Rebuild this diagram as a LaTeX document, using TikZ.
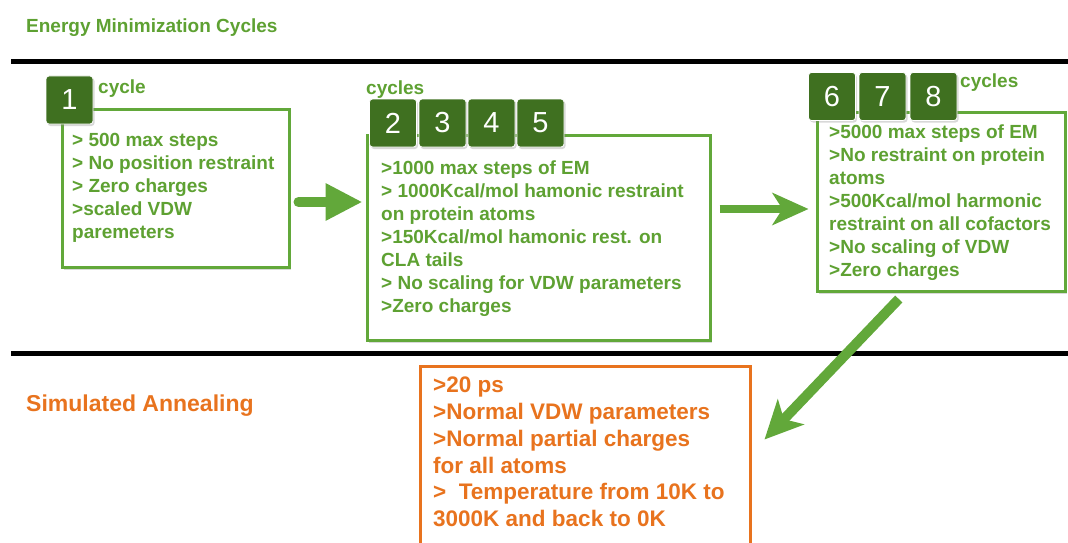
\documentclass[tikz,border=0pt]{standalone}
\usepackage{fontspec}
\setmainfont{Liberation Sans}
\usetikzlibrary{arrows.meta,shadows}
\definecolor{emgreen}{HTML}{62A83A}
\definecolor{emtext}{HTML}{5EA132}
\definecolor{badgegreen}{HTML}{3F7020}
\definecolor{saorange}{HTML}{E8731E}

\begin{document}
\begin{tikzpicture}[x=1pt,y=-1pt,
  stepbox/.style={draw=emgreen, line width=3pt, fill=white, inner sep=0pt,
    drop shadow={shadow xshift=2pt, shadow yshift=-3pt, opacity=0.3}},
  badge/.style={fill=badgegreen, draw=white, line width=0.8pt, rounded corners=3pt,
    minimum width=47pt, minimum height=48pt, inner sep=0pt, text=white,
    font=\fontsize{29}{29}\selectfont,
    drop shadow={shadow xshift=1.5pt, shadow yshift=-2pt, opacity=0.3}},
  steplist/.style={anchor=north west, inner sep=0pt, align=left, text=emtext,
    font=\fontsize{19}{23}\selectfont\bfseries},
  cyclelabel/.style={anchor=base west, inner sep=0pt, text=emtext,
    font=\fontsize{19}{23}\selectfont\bfseries},
  fatarrow/.style={draw=emgreen, line width=10pt},
  sep/.style={draw=black, line width=5pt}
]
\useasboundingbox (0,0) rectangle (1068,543);
\clip (0,0) rectangle (1068,543);

% section headings and separators
\node[anchor=base west, inner sep=0pt, text=emtext,
  font=\fontsize{19}{23}\selectfont\bfseries] (emtitle) at (26,33) {Energy Minimization Cycles};
\node[anchor=base west, inner sep=0pt, text=saorange,
  font=\fontsize{23}{27}\selectfont\bfseries] (satitle) at (26,411) {Simulated Annealing};
\draw[sep] (11,62) -- (1068,62);
\draw[sep] (11,353) -- (1068,353);

% cycle 1
\node[stepbox, minimum width=227pt, minimum height=158pt] (box1) at (175.5,188) {};
\node[badge] (b1) at (69.5,100) {1};
\node[cyclelabel] (c1) at (98,93) {cycle};
\node[steplist] (t1) at (72,133) {> 500 max steps\\> No position restraint\\> Zero charges\\>scaled VDW\\paremeters};

% cycles 2-5
\node[stepbox, minimum width=343pt, minimum height=205pt] (box2) at (538.5,237.5) {};
\node[badge] (b2) at (393,123) {2};
\node[badge] (b3) at (442.5,123) {3};
\node[badge] (b4) at (491.5,123) {4};
\node[badge] (b5) at (540.5,123) {5};
\node[cyclelabel] (c2) at (366,95) {cycles};
\node[steplist] (t2) at (381,161) {>1000 max steps of EM\\> 1000Kcal/mol hamonic restraint\\on protein atoms\\>150Kcal/mol hamonic rest. on\\CLA tails\\> No scaling for VDW parameters\\>Zero charges};

% cycles 6-8
\node[stepbox, minimum width=248pt, minimum height=179pt] (box3) at (941,201.5) {};
\node[badge] (b6) at (832,96.5) {6};
\node[badge] (b7) at (882.5,96.5) {7};
\node[badge] (b8) at (933.5,96.5) {8};
\node[cyclelabel] (c3) at (960,87) {cycles};
\node[steplist] (t3) at (829,125) {>5000 max steps of EM\\>No restraint on protein\\atoms\\>500Kcal/mol harmonic\\restraint on all cofactors\\>No scaling of VDW\\>Zero charges};

% simulated annealing
\node[draw=saorange, line width=3pt, fill=white, inner sep=0pt,
  minimum width=330pt, minimum height=200pt] (anneal) at (585,466) {};
\node[anchor=north west, inner sep=0pt, align=left, text=saorange,
  font=\fontsize{22.5}{26.7}\selectfont\bfseries] (t4) at (433,377)
  {>20 ps\\>Normal VDW parameters\\>Normal partial charges\\for all atoms\\>~ Temperature from 10K to\\3000K and back to 0K};

% flow between stages
\draw[fatarrow, line cap=round, -{Triangle[length=37pt,width=35pt]}, shorten <=8pt, shorten >=3pt]
  ([yshift=-14pt]box1.east) -- ([yshift=35.5pt]box2.west);
\draw[fatarrow, line width=8pt, -{Stealth[length=36pt,width=32pt,inset=10pt]}, shorten <=8pt, shorten >=7pt]
  ([yshift=28.5pt]box2.east) -- ([yshift=-7.5pt]box3.west);
\draw[fatarrow, -{Stealth[length=38pt,width=36pt,inset=10pt]}, shorten <=9pt]
  ([xshift=-36pt]box3.south) -- ([xshift=13pt,yshift=-75pt]anneal.north east);
\end{tikzpicture}
\end{document}
